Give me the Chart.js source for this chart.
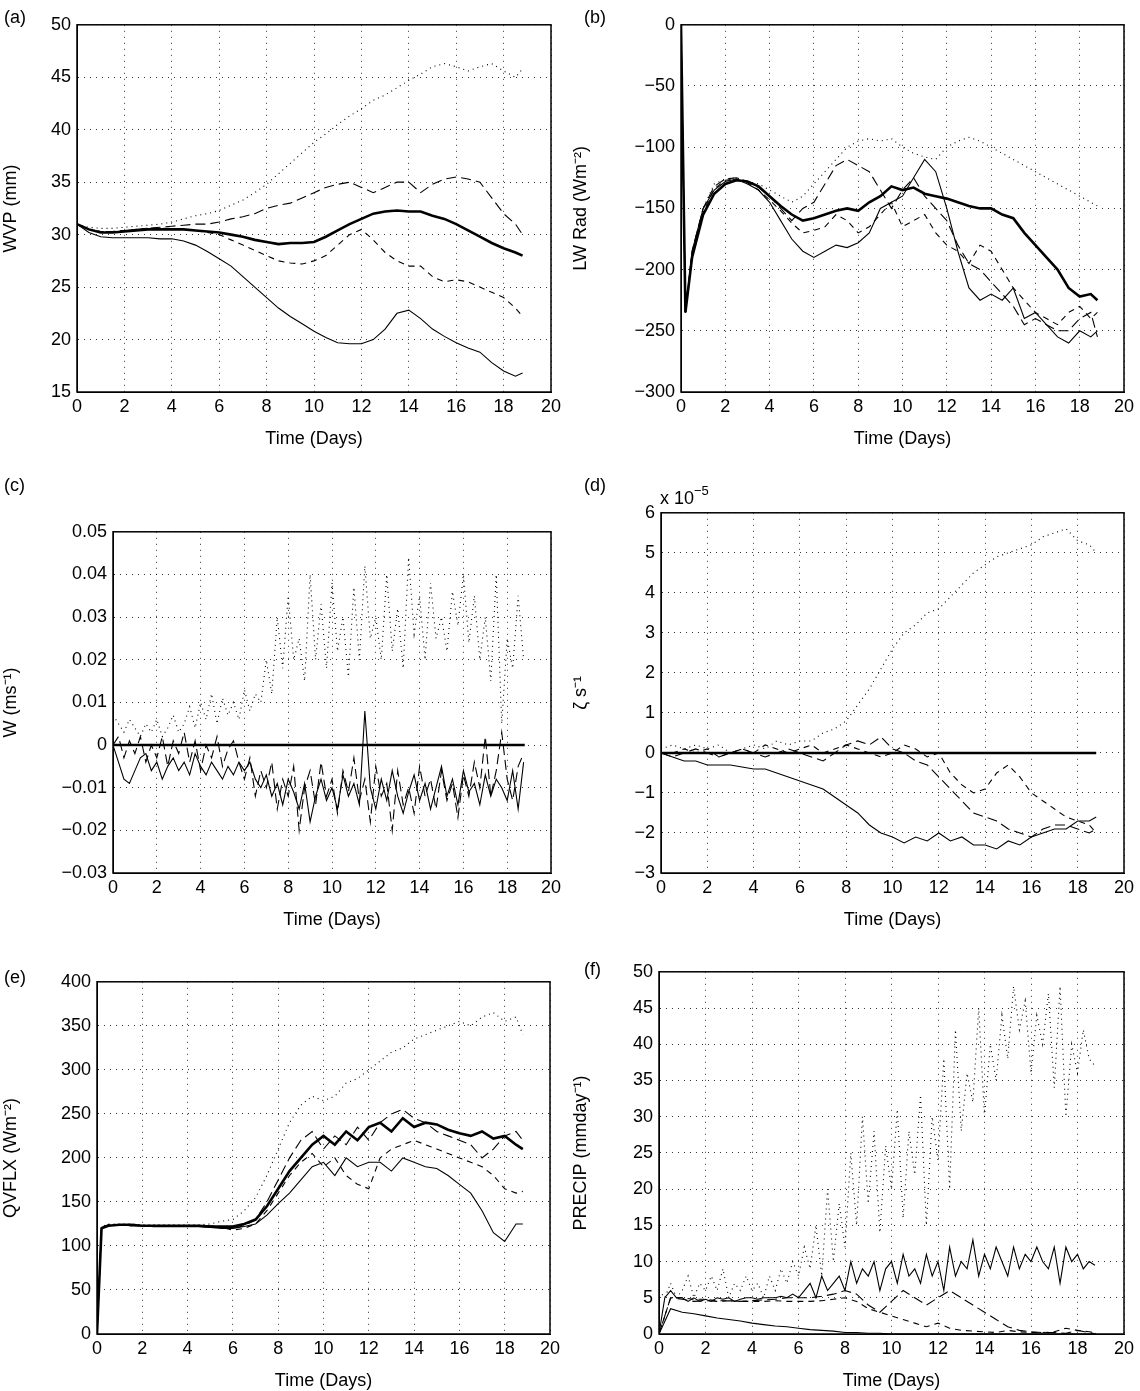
<!DOCTYPE html>
<html><head><meta charset="utf-8">
<script src="https://cdn.jsdelivr.net/npm/chart.js@4.4.1/dist/chart.umd.min.js"></script>
<style>
body{margin:0;background:#fff;width:1140px;height:1391px;position:relative;overflow:hidden;font-family:"Liberation Sans",Arial,sans-serif}
.p{position:absolute}
.lab{position:absolute;font-size:18px;color:#000;line-height:18px}
</style></head><body>
<div class="p" id="pa"><canvas id="ca"></canvas></div>
<div class="p" id="pb"><canvas id="cb"></canvas></div>
<div class="p" id="pc"><canvas id="cc"></canvas></div>
<div class="p" id="pd"><canvas id="cd"></canvas></div>
<div class="p" id="pe"><canvas id="ce"></canvas></div>
<div class="p" id="pf"><canvas id="cf"></canvas></div>
<div class="lab" style="left:4px;top:8px">(a)</div>
<div class="lab" style="left:584px;top:8px">(b)</div>
<div class="lab" style="left:4px;top:476px">(c)</div>
<div class="lab" style="left:584px;top:476px">(d)</div>
<div class="lab" style="left:660px;top:484px">x 10<sup style="font-size:13px;position:relative;top:-2px">−5</sup></div>
<div class="lab" style="left:4px;top:968px">(e)</div>
<div class="lab" style="left:584px;top:960px">(f)</div>
<script>
// time axes (days)
const T05 = [0,0.5,1,1.5,2,2.5,3,3.5,4,4.5,5,5.5,6,6.5,7,7.5,8,8.5,9,9.5,10,10.5,11,11.5,12,12.5,13,13.5,14,14.5,15,15.5,16,16.5,17,17.5,18,18.5,18.8];
const T02 = [0,0.2,0.5,1,1.5,2,2.5,3,3.5,4,4.5,5,5.5,6,6.5,7,7.5,8,8.5,9,9.5,10,10.5,11,11.5,12,12.5,13,13.5,14,14.5,15,15.5,16,16.5,17,17.5,18,18.5,18.8];
const T025 = [0,0.25,0.5,0.75,1,1.25,1.5,1.75,2,2.25,2.5,2.75,3,3.25,3.5,3.75,4,4.25,4.5,4.75,5,5.25,5.5,5.75,6,6.25,6.5,6.75,7,7.25,7.5,7.75,8,8.25,8.5,8.75,9,9.25,9.5,9.75,10,10.25,10.5,10.75,11,11.25,11.5,11.75,12,12.25,12.5,12.75,13,13.25,13.5,13.75,14,14.25,14.5,14.75,15,15.25,15.5,15.75,16,16.25,16.5,16.75,17,17.25,17.5,17.75,18,18.25,18.5,18.75];

// (a) WVP
const aThick = [31,30.5,30.2,30.2,30.3,30.4,30.5,30.5,30.5,30.5,30.4,30.3,30.2,30,29.8,29.5,29.3,29.1,29.2,29.2,29.3,29.8,30.4,31,31.5,32,32.2,32.3,32.2,32.2,31.8,31.5,31,30.4,29.8,29.2,28.7,28.3,28];
const aThin = [31,30.2,29.8,29.7,29.7,29.7,29.7,29.6,29.6,29.4,29,28.4,27.7,27,26,25,24,23,22.2,21.5,20.8,20.2,19.7,19.6,19.6,20,21,22.5,22.8,22,21,20.3,19.7,19.2,18.8,17.8,17,16.5,16.8];
const aDot = [31,30.7,30.6,30.6,30.7,30.8,30.9,31,31.2,31.5,31.8,32,32.3,32.8,33.3,34,34.8,35.8,36.8,37.8,38.8,39.6,40.5,41.3,42,42.8,43.3,44,44.7,45.3,46,46.3,46,45.6,46,46.3,45.6,45,45.8];
const aLong = [31,30.5,30.3,30.3,30.4,30.5,30.6,30.7,30.8,30.9,31,31,31.2,31.5,31.7,32,32.5,32.8,33,33.5,34,34.5,34.8,35,34.5,34,34.5,35,35,34,34.8,35.3,35.5,35.3,35,33.5,32,31,30];
const aDash = [31,30.5,30.3,30.3,30.4,30.5,30.6,30.6,30.6,30.5,30.4,30.2,30,29.5,29,28.5,28,27.5,27.3,27.2,27.5,28,29,30,30.5,29.5,28.3,27.5,27,27,26,25.5,25.7,25.5,25,24.5,24,23,22.2];

// (b) LW Rad
const bThick = [0,-235,-190,-155,-138,-130,-127,-128,-132,-140,-148,-155,-160,-158,-155,-152,-150,-152,-145,-140,-132,-135,-133,-138,-140,-142,-145,-148,-150,-150,-155,-158,-170,-180,-190,-200,-215,-222,-220,-225];
const bThin = [0,-235,-185,-150,-135,-128,-126,-130,-135,-145,-160,-175,-185,-190,-185,-180,-182,-178,-170,-150,-145,-140,-125,-110,-120,-150,-185,-215,-225,-220,-225,-215,-240,-235,-245,-255,-260,-250,-255,-250];
const bDot = [0,-235,-185,-150,-130,-126,-125,-128,-130,-135,-140,-145,-140,-130,-120,-110,-100,-95,-93,-95,-93,-100,-105,-108,-110,-100,-95,-92,-95,-100,-105,-110,-115,-120,-125,-130,-135,-140,-145,-148];
const bLong = [0,-235,-185,-150,-132,-126,-125,-128,-133,-140,-150,-160,-150,-145,-130,-115,-110,-115,-120,-135,-150,-135,-125,-140,-150,-160,-180,-195,-200,-210,-220,-230,-245,-240,-245,-250,-250,-240,-235,-255];
const bDash = [0,-235,-188,-153,-134,-127,-126,-129,-135,-143,-152,-162,-170,-168,-165,-155,-160,-170,-165,-155,-145,-165,-160,-155,-170,-180,-185,-195,-180,-185,-200,-215,-225,-235,-240,-245,-235,-230,-240,-235];

// (c) W
const cThick = [0,0,0,0,0,0,0,0,0,0,0,0,0,0,0,0,0,0,0,0,0,0,0,0,0,0,0,0,0,0,0,0,0,0,0,0,0,0,0];
const cThin = [0,-0.004,-0.008,-0.009,-0.006,-0.003,-0.002,-0.006,-0.004,-0.008,-0.005,-0.003,-0.006,-0.004,-0.007,-0.002,-0.005,-0.007,-0.004,-0.006,-0.008,-0.005,-0.007,-0.004,-0.006,-0.004,-0.008,-0.01,-0.007,-0.012,-0.009,-0.014,-0.008,-0.011,-0.015,-0.009,-0.018,-0.012,-0.008,-0.013,-0.01,-0.015,-0.007,-0.012,-0.009,-0.014,0.008,-0.01,-0.015,-0.008,-0.013,-0.006,-0.012,-0.016,-0.011,-0.007,-0.013,-0.009,-0.015,-0.01,-0.005,-0.012,-0.008,-0.014,-0.006,-0.011,-0.009,-0.014,-0.007,-0.012,-0.008,-0.01,-0.013,-0.006,-0.015,-0.004];
const cDot = [0.007,0.005,0.003,0.006,0.004,0.002,0.005,0.003,0.006,0.002,0.004,0.007,0.003,0.005,0.009,0.004,0.01,0.006,0.012,0.005,0.011,0.007,0.01,0.006,0.013,0.008,0.012,0.01,0.02,0.012,0.03,0.018,0.035,0.02,0.025,0.015,0.04,0.02,0.033,0.018,0.038,0.022,0.03,0.016,0.037,0.02,0.042,0.025,0.03,0.02,0.04,0.022,0.032,0.018,0.044,0.026,0.035,0.02,0.038,0.025,0.03,0.022,0.036,0.028,0.04,0.024,0.035,0.02,0.03,0.015,0.04,0.005,0.025,0.018,0.035,0.02];
const cDash = [0,0.002,-0.003,0.001,-0.002,0.002,-0.004,0,-0.003,0.002,-0.005,0.001,-0.002,0.003,-0.004,0.001,-0.006,0,-0.003,0.002,-0.005,-0.001,0.001,-0.004,-0.008,-0.003,-0.012,-0.006,-0.01,-0.004,-0.015,-0.008,-0.012,-0.005,-0.02,-0.01,-0.006,-0.014,-0.004,-0.012,-0.008,-0.016,-0.006,-0.011,-0.003,-0.013,-0.008,-0.018,-0.005,-0.012,-0.009,-0.02,-0.006,-0.014,-0.01,-0.016,-0.005,-0.012,-0.008,-0.015,-0.006,-0.013,-0.009,-0.017,-0.007,-0.012,-0.004,-0.01,0.002,-0.012,-0.006,0.003,-0.008,-0.013,-0.005,-0.002];

// (d) vorticity (x 1e-5)
const dThick = [0,0,0,0,0,0,0,0,0,0,0,0,0,0,0,0,0,0,0,0,0,0,0,0,0,0,0,0,0,0,0,0,0,0,0,0,0,0,0];
const dThin = [0,-0.1,-0.2,-0.2,-0.3,-0.3,-0.3,-0.35,-0.4,-0.4,-0.5,-0.6,-0.7,-0.8,-0.9,-1.1,-1.3,-1.5,-1.8,-2.0,-2.1,-2.25,-2.1,-2.2,-2.0,-2.2,-2.1,-2.3,-2.3,-2.4,-2.2,-2.3,-2.1,-2.0,-1.9,-1.9,-1.7,-1.7,-1.6];
const dDot = [0.1,0.2,0.1,0.2,0.1,0.2,0,0.1,0.2,0.1,0.3,0.2,0.3,0.3,0.5,0.6,0.8,1.2,1.6,2.1,2.6,3.0,3.2,3.5,3.6,3.9,4.2,4.5,4.7,4.9,5.0,5.1,5.2,5.4,5.5,5.6,5.3,5.2,5.0];
const dLong = [0,-0.1,0,0.1,0,-0.1,0,0.1,0,-0.1,0,0.1,0,-0.1,-0.2,0,0.2,0.3,0.2,0.4,0.1,0,-0.2,-0.3,-0.6,-0.9,-1.2,-1.5,-1.6,-1.7,-1.9,-2.0,-2.1,-1.9,-1.8,-1.8,-1.9,-2.0,-1.9];
const dDash = [0,0,0.1,0,0.1,-0.1,0,0.1,0,0.2,0.1,0,0.1,0.2,0,0.1,0.2,0.1,0,-0.1,0,0.2,0.1,-0.1,0,-0.5,-0.8,-1.0,-0.9,-0.5,-0.3,-0.6,-1.0,-1.2,-1.4,-1.6,-1.7,-1.8,-2.0];

// (e) QVFLX
const eThick = [0,120,123,124,124,123,123,123,123,123,123,122,122,122,125,130,145,165,185,200,215,225,215,230,220,235,240,230,245,235,240,238,232,228,225,230,222,225,215,210];
const eThin = [0,120,123,124,123,123,122,122,122,122,122,121,120,120,122,125,135,148,160,175,190,195,180,200,190,195,195,185,200,195,190,188,180,170,160,140,115,105,125,125];
const eDot = [0,122,125,125,125,124,124,124,124,124,124,125,128,130,140,155,180,210,240,260,270,265,270,285,290,300,310,320,325,335,340,345,350,355,350,360,365,355,360,340];
const eLong = [0,121,124,124,123,123,123,123,123,123,123,123,122,120,123,130,150,175,200,220,230,210,225,215,235,220,240,250,255,245,240,230,225,220,215,200,210,225,230,220];
const eDash = [0,121,124,124,123,123,123,123,123,123,123,122,121,118,120,125,140,160,180,195,205,190,200,180,170,165,200,210,215,220,215,210,205,200,195,190,180,165,160,162];

// (f) PRECIP
const fDot = [6,5,7,5,6,8,5,7,6,8,6,9,5,7,6,8,6,7,5,8,6,9,7,10,8,12,9,15,8,20,10,18,12,25,15,30,18,28,14,26,20,31,16,28,22,33,15,30,24,38,20,42,28,36,32,45,30,40,35,44,38,48,42,46,36,44,40,47,34,48,30,40,36,42,38,37];
const fUpper = [0,5,6,5,5,4.5,5,4.5,4.8,4.5,5,4.8,5,4.5,4.8,5,5,4.8,5,5,5,5.2,5,5.5,5,6,7,5,8,6,7,8,6,10,7,9,8,10,6,9,10,7,11,8,9,7,11,8,10,6,12,8,10,9,13,8,11,9,12,10,8,12,9,11,10,12,10,9,12,7,12,10,11,9,10,9.5];
const fLower = [0,3.5,3,2.8,2.5,2.2,2,1.8,1.5,1.3,1.1,1,0.8,0.6,0.5,0.4,0.2,0.2,0.1,0.1,0,0,0,0,0,0,0,0,0,0,0,0,0,0,0,0,0,0,0];
const fLong = [0,5,4.8,4.5,4.6,4.5,4.6,4.5,4.6,4.7,4.8,5,5,5,5.2,5.5,6,5.5,4,3,4.5,6,5,4,5,6,5,4,3,2,1,0.5,0.3,0.2,0.2,0.1,0.5,0.2,0];
const fDash = [0,5,5,4.8,4.8,4.6,4.6,4.5,4.5,4.5,4.6,4.5,4.5,4.5,4.6,4.8,5,4.5,3.5,3,2.5,2,1.5,1,1.5,0.8,0.5,0.4,0.3,0.2,0.5,0.3,0.2,0.2,0.3,0.8,0.5,0.3,0.2];

const STY = {
  thick: {borderWidth: 2.6, borderDash: []},
  thin: {borderWidth: 1.1, borderDash: []},
  dot: {borderWidth: 1.1, borderDash: [1, 4]},
  long: {borderWidth: 1.1, borderDash: [10, 5]},
  dash: {borderWidth: 1.1, borderDash: [6, 5]},
};
const FONT = {family: '"Liberation Sans", Arial, sans-serif', size: 18};

function ds(t, v, s) {
  return Object.assign({data: v.map((y, i) => ({x: t[i], y})), borderColor: '#000', pointRadius: 0, tension: 0, fill: false}, STY[s]);
}

// box = plot-area edges in page pixels
function panel(id, cx, box, series, y) {
  const wrap = document.getElementById('p' + id);
  const top = box.t - 12, h = box.b + 62 - top;
  Object.assign(wrap.style, {left: cx + 'px', top: top + 'px', width: '570px', height: h + 'px'});
  new Chart(document.getElementById('c' + id), {
    type: 'line',
    data: {datasets: series},
    options: {
      animation: false, responsive: true, maintainAspectRatio: false,
      layout: {padding: {top: 12, right: cx + 570 - box.r, bottom: 0, left: 0}},
      plugins: {legend: {display: false}, tooltip: {enabled: false}},
      scales: {
        x: {
          type: 'linear', min: 0, max: 20,
          ticks: {stepSize: 2, color: '#000', font: FONT, maxRotation: 0, padding: 4},
          grid: {color: '#000', lineWidth: 0.8, tickLength: 0},
          border: {color: '#000', dash: [1, 5]},
          title: {display: true, text: 'Time (Days)', color: '#000', font: FONT, padding: {top: 8}},
          afterFit: a => { a.height = 62; },
        },
        y: {
          min: y.min, max: y.max,
          ticks: {stepSize: y.step, color: '#000', font: FONT, padding: 6,
            callback: v => String(Number(v.toFixed(3))).replace('-', '−')},
          grid: {color: '#000', lineWidth: 0.8, tickLength: 0},
          border: {color: '#000', dash: [1, 5]},
          title: {display: true, text: y.title, color: '#000', font: FONT, padding: 0},
          afterFit: a => { a.width = box.l - cx; },
        },
      },
    },
    plugins: [{
      id: 'box',
      beforeDatasetsDraw(c) {
        const a = c.chartArea, g = c.ctx;
        g.save(); g.strokeStyle = '#000'; g.lineWidth = 1.5; g.setLineDash([]);
        g.strokeRect(a.left, a.top, a.right - a.left, a.bottom - a.top);
        g.restore();
      },
    }],
  });
}

panel('a', 0, {l: 77, r: 551, t: 20, b: 392},
  [ds(T05, aDot, 'dot'), ds(T05, aLong, 'long'), ds(T05, aDash, 'dash'), ds(T05, aThin, 'thin'), ds(T05, aThick, 'thick')],
  {min: 15, max: 50, step: 5, title: 'WVP (mm)'});
panel('b', 570, {l: 681, r: 1124, t: 20, b: 392},
  [ds(T02, bDot, 'dot'), ds(T02, bLong, 'long'), ds(T02, bDash, 'dash'), ds(T02, bThin, 'thin'), ds(T02, bThick, 'thick')],
  {min: -300, max: 0, step: 50, title: 'LW Rad (Wm⁻²)'});
panel('c', 0, {l: 113, r: 551, t: 527, b: 873},
  [ds(T025, cDot, 'dot'), ds(T025, cDash, 'long'), ds(T025, cThin, 'thin'), ds(T05, cThick, 'thick')],
  {min: -0.03, max: 0.05, step: 0.01, title: 'W (ms⁻¹)'});
panel('d', 570, {l: 661, r: 1124, t: 508, b: 873},
  [ds(T05, dDot, 'dot'), ds(T05, dLong, 'long'), ds(T05, dDash, 'dash'), ds(T05, dThin, 'thin'), ds(T05, dThick, 'thick')],
  {min: -3, max: 6, step: 1, title: 'ζ s⁻¹'});
panel('e', 0, {l: 97, r: 550, t: 977, b: 1334},
  [ds(T02, eDot, 'dot'), ds(T02, eLong, 'long'), ds(T02, eDash, 'dash'), ds(T02, eThin, 'thin'), ds(T02, eThick, 'thick')],
  {min: 0, max: 400, step: 50, title: 'QVFLX (Wm⁻²)'});
panel('f', 570, {l: 659, r: 1124, t: 967, b: 1334},
  [ds(T025, fDot, 'dot'), ds(T05, fLong, 'long'), ds(T05, fDash, 'dash'), ds(T025, fUpper, 'thin'), ds(T05, fLower, 'thin')],
  {min: 0, max: 50, step: 5, title: 'PRECIP (mmday⁻¹)'});
</script>
</body></html>
